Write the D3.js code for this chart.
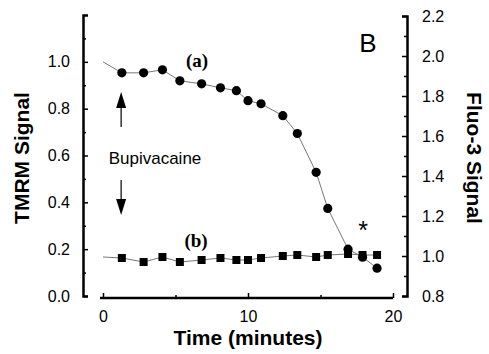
<!DOCTYPE html>
<html>
<head>
<style>
 body { margin: 0; background: #fff; }
 svg text { font-family: "Liberation Sans", Arial, sans-serif; }
 .axis path, .axis line { stroke: #000; }
 .axis path { stroke-width: 2.5; }
 .axis line { stroke-width: 1.5; }
 .axis text { font-size: 16px; fill: #000; }
</style>
<script src="https://d3js.org/d3.v7.min.js"></script>
</head>
<body>
<svg width="489" height="354"></svg>
<script>
// time in minutes; first entry (t = 0) is the line start, no marker
var time = [0, 1.3, 2.8, 4.1, 5.3, 6.8, 8.1, 9.2, 10.0, 10.9, 12.4, 13.4, 14.7, 15.5, 16.9, 17.9, 18.9];
var tmrm = [1.0, 0.953, 0.953, 0.966, 0.919, 0.906, 0.889, 0.877, 0.834, 0.821, 0.770, 0.694, 0.528, 0.374, 0.200, 0.166, 0.119];
var fluo = [0.995, 0.99, 0.97, 0.995, 0.97, 0.98, 0.99, 0.98, 0.98, 0.99, 1.0, 1.005, 0.995, 1.005, 1.01, 1.005, 1.005];

var xTicks = [0, 10, 20], xMinor = [5, 15];
var leftTicks = [0, 0.2, 0.4, 0.6, 0.8, 1.0], leftMinor = [0.1, 0.3, 0.5, 0.7, 0.9, 1.1];
var rightTicks = [0.8, 1.0, 1.2, 1.4, 1.6, 1.8, 2.0, 2.2], rightMinor = [0.9, 1.1, 1.3, 1.5, 1.7, 1.9, 2.1];

var svg = d3.select("svg");

var x = d3.scaleLinear().domain([0, 20]).range([103, 393]),
    yL = d3.scaleLinear().domain([0, 1.2]).range([296, 15]),
    yR = d3.scaleLinear().domain([0.8, 2.2]).range([296, 16]);

// minor ticks first, then the labelled axes on top
svg.append("g").attr("class", "axis").attr("transform", "translate(0,298)")
   .call(d3.axisBottom(x).tickValues(xMinor).tickSize(-3).tickSizeOuter(0).tickFormat(""))
   .select(".domain").remove();
svg.append("g").attr("class", "axis").attr("transform", "translate(0,298)")
   .call(d3.axisBottom(x).tickValues(xTicks).tickSize(-5).tickSizeOuter(0).tickPadding(13).tickFormat(d3.format("d")))
   .select(".domain").attr("d", "M100,0H" + x(20));

svg.append("g").attr("class", "axis").attr("transform", "translate(83,0)")
   .call(d3.axisLeft(yL).tickValues(leftMinor).tickSize(-3).tickFormat(""))
   .select(".domain").remove();
svg.append("g").attr("class", "axis").attr("transform", "translate(83,0)")
   .call(d3.axisLeft(yL).tickValues(leftTicks).tickSize(-5).tickSizeOuter(-5).tickPadding(13).tickFormat(d3.format(".1f")));

svg.append("g").attr("class", "axis").attr("transform", "translate(407,0)")
   .call(d3.axisRight(yR).tickValues(rightMinor).tickSize(-3).tickFormat(""))
   .select(".domain").remove();
svg.append("g").attr("class", "axis").attr("transform", "translate(407,0)")
   .call(d3.axisRight(yR).tickValues(rightTicks).tickSize(-5).tickSizeOuter(-5).tickPadding(15).tickFormat(d3.format(".1f")));

// data lines
var tm = time.map(function(t, i) { return {t: t, a: tmrm[i], b: fluo[i]}; });

svg.append("path").datum(tm)
   .attr("fill", "none").attr("stroke", "#777").attr("stroke-width", 1)
   .attr("d", d3.line().x(function(d) { return x(d.t); }).y(function(d) { return yR(d.b); }));
svg.append("path").datum(tm)
   .attr("fill", "none").attr("stroke", "#777").attr("stroke-width", 1)
   .attr("d", d3.line().x(function(d) { return x(d.t); }).y(function(d) { return yL(d.a); }));

var pts = tm.slice(1);
svg.selectAll(".sq").data(pts).enter().append("rect")
   .attr("class", "sq")
   .attr("x", function(d) { return x(d.t) - 4; })
   .attr("y", function(d) { return yR(d.b) - 4; })
   .attr("width", 8).attr("height", 8).attr("fill", "#000");
svg.selectAll(".dot").data(pts).enter().append("circle")
   .attr("class", "dot")
   .attr("cx", function(d) { return x(d.t); })
   .attr("cy", function(d) { return yL(d.a); })
   .attr("r", 4.6).attr("fill", "#000");

// titles
svg.append("text").attr("transform", "translate(29,158) rotate(-90)")
   .attr("text-anchor", "middle").attr("font-size", 21).attr("font-weight", "bold").text("TMRM Signal");
svg.append("text").attr("transform", "translate(467,158) rotate(90)")
   .attr("text-anchor", "middle").attr("font-size", 21).attr("font-weight", "bold").text("Fluo-3 Signal");
svg.append("text").attr("x", 248).attr("y", 345)
   .attr("text-anchor", "middle").attr("font-size", 21).attr("font-weight", "bold").text("Time (minutes)");

// annotations
svg.append("text").attr("x", 368).attr("y", 52).attr("text-anchor", "middle")
   .attr("font-size", 26).text("B");
svg.append("text").attr("x", 197).attr("y", 67).attr("text-anchor", "middle")
   .style("font-family", "'Liberation Serif', 'Times New Roman', serif")
   .attr("font-size", 19).attr("font-weight", "bold").text("(a)");
svg.append("text").attr("x", 196).attr("y", 247).attr("text-anchor", "middle")
   .style("font-family", "'Liberation Serif', 'Times New Roman', serif")
   .attr("font-size", 19).attr("font-weight", "bold").text("(b)");
svg.append("text").attr("x", 155).attr("y", 164).attr("text-anchor", "middle")
   .attr("font-size", 17).text("Bupivacaine");
svg.append("text").attr("x", 363).attr("y", 239).attr("text-anchor", "middle")
   .attr("font-size", 25).text("*");

// arrows
var ax = x(1.25);
svg.append("line").attr("x1", ax).attr("x2", ax).attr("y1", 127).attr("y2", 105)
   .attr("stroke", "#000").attr("stroke-width", 1.2);
svg.append("path").attr("d", "M" + ax + ",92L" + (ax - 5) + ",108L" + (ax + 5) + ",108Z").attr("fill", "#000");
svg.append("line").attr("x1", ax).attr("x2", ax).attr("y1", 180).attr("y2", 202)
   .attr("stroke", "#000").attr("stroke-width", 1.2);
svg.append("path").attr("d", "M" + ax + ",215L" + (ax - 5) + ",199L" + (ax + 5) + ",199Z").attr("fill", "#000");
</script>
</body>
</html>
